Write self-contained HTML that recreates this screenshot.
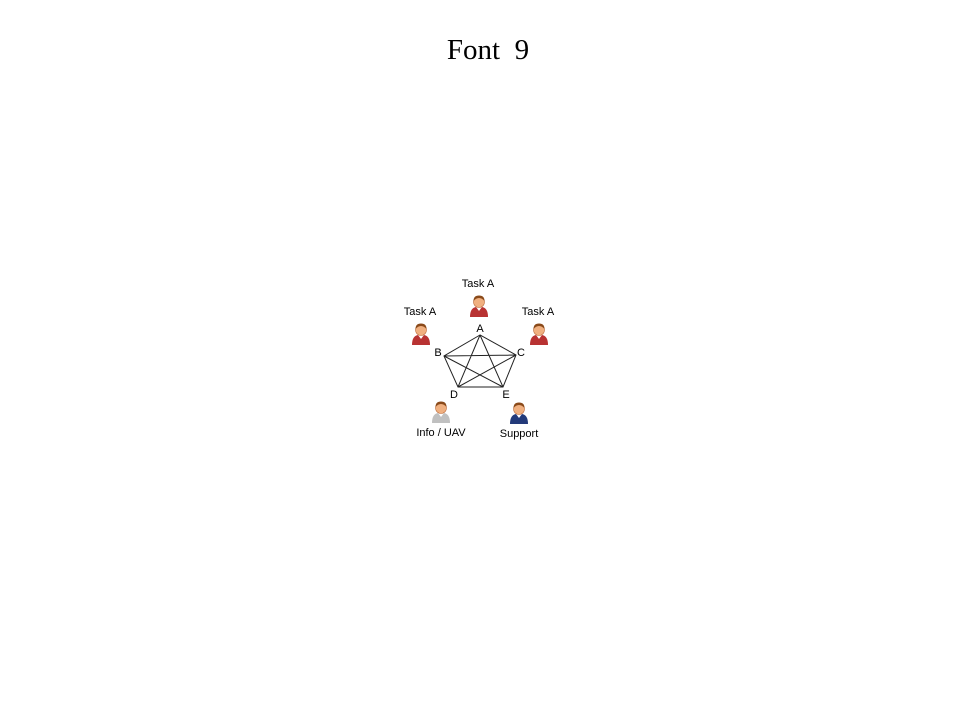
<!DOCTYPE html>
<html><head><style>
body{margin:0;width:960px;height:720px;background:#fff;overflow:hidden}
</style></head><body>
<svg width="960" height="720" xmlns="http://www.w3.org/2000/svg">
<defs>
<g id="p">
<path d="M-9,10 Q-9,1 -3,0 L3,0 Q9,1 9,10 Z"/>
<path d="M-3,0 L0,4 L3,0 Z" fill="#fff"/>
<circle cx="0" cy="-5" r="5.5" fill="#f0b080" stroke="#c07040" stroke-width="0.6"/>
<path d="M-5.5,-6 Q-5.5,-11.5 0,-11.5 Q5.5,-11.5 5.5,-6 Q3,-9 0,-9 Q-3,-9 -5.5,-6 Z" fill="#8a4a1a"/>
</g>
</defs>
<text x="488" y="59" font-family="Liberation Serif, serif" font-size="29" text-anchor="middle">Font&#160; 9</text>
<g stroke="#222" stroke-width="1" fill="none">
<path d="M480,335 L444,356 L458,387 L503,387 L516,355 Z"/>
<path d="M480,335 L458,387 M480,335 L503,387 M444,356 L516,355 M444,356 L503,387 M516,355 L458,387"/>
</g>
<g font-family="Liberation Sans, sans-serif" font-size="11" text-anchor="middle" fill="#000">
<text x="478" y="287">Task A</text>
<text x="420" y="315">Task A</text>
<text x="538" y="315">Task A</text>
<text x="441" y="436">Info / UAV</text>
<text x="519" y="437">Support</text>
<text x="480" y="332">A</text>
<text x="438" y="356">B</text>
<text x="521" y="356">C</text>
<text x="454" y="398">D</text>
<text x="506" y="398">E</text>
</g>
<use href="#p" x="479" y="307" fill="#b83232"/>
<use href="#p" x="421" y="335" fill="#b83232"/>
<use href="#p" x="539" y="335" fill="#b83232"/>
<use href="#p" x="441" y="413" fill="#c0c0c0"/>
<use href="#p" x="519" y="414" fill="#233a7a"/>
</svg>
</body></html>
